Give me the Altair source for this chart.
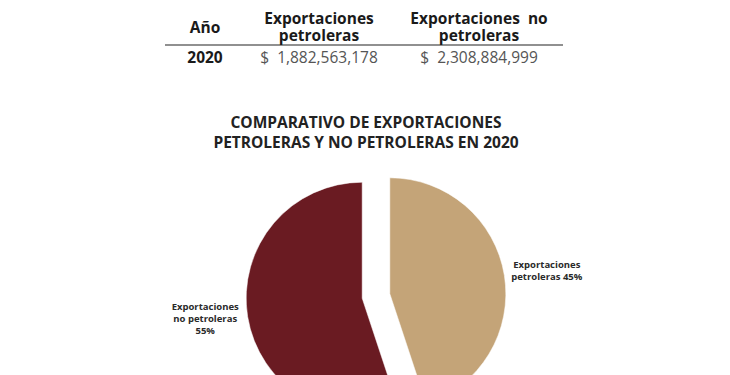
import altair as alt
import pandas as pd

# ---- table data ----
table_headers = ["Año", "Exportaciones\npetroleras", "Exportaciones\u00a0\u00a0no\npetroleras"]
table_year = "2020"
table_values = [1882563178, 2308884999]

# ---- pie data ----
categories = ["Exportaciones petroleras", "Exportaciones no petroleras"]
pie_values = [1882563178, 2308884999]
label_prefix = ["Exportaciones\npetroleras ", "Exportaciones\nno petroleras\n"]
pie_colors = ["#C4A478", "#6A1B22"]

title_lines = ["COMPARATIVO DE EXPORTACIONES", "PETROLERAS Y NO PETROLERAS EN 2020"]

FONT = "Open Sans"

col_scale = alt.Scale(domain=[0, 1, 2], range=[197, 311, 471])
HEAD_LH = 17

header_df = pd.DataFrame({"ci": list(range(len(table_headers))), "header": table_headers})
headers = alt.Chart(header_df).transform_calculate(
    hy=f"19.5 - (length(split(datum.header, '\\n')) - 1) * {HEAD_LH} / 2"
).mark_text(
    font=FONT, fontSize=15.5, fontWeight="bold", color="#1a1a1a",
    baseline="middle", align="center", lineBreak="\n", lineHeight=HEAD_LH
).encode(
    x=alt.X("ci:Q", scale=col_scale, axis=None),
    y=alt.Y("hy:Q", scale=None),
    text="header:N",
)

rule = alt.Chart(pd.DataFrame({"a": [0]})).mark_rule(color="#222", strokeWidth=1.2).encode(
    x=alt.value(157), x2=alt.value(555), y=alt.value(37)
)

year_df = pd.DataFrame({"ci": [0], "txt": [table_year]})
year = alt.Chart(year_df).mark_text(
    font=FONT, fontSize=15.5, fontWeight="bold", color="#1a1a1a", baseline="middle"
).encode(
    x=alt.X("ci:Q", scale=col_scale, axis=None),
    y=alt.value(50),
    text="txt:N",
)

vals_df = pd.DataFrame({"ci": [1, 2], "v": table_values})
vals = alt.Chart(vals_df).transform_calculate(
    txt="'$\u00a0\u00a0' + format(datum.v, ',')"
).mark_text(
    font=FONT, fontSize=15.5, color="#555555", baseline="middle"
).encode(
    x=alt.X("ci:Q", scale=col_scale, axis=None),
    y=alt.value(50),
    text="txt:N",
)

title = alt.Chart(pd.DataFrame({"t": ["\n".join(title_lines)]})).mark_text(
    font=FONT, fontSize=15.5, fontWeight="bold", color="#222222",
    baseline="middle", align="center", lineBreak="\n", lineHeight=19.5
).encode(
    x=alt.value(358), y=alt.value(115), text="t:N"
)

pie_df = pd.DataFrame({
    "cat": categories,
    "value": pie_values,
    "idx": list(range(len(categories))),
    "prefix": label_prefix,
})

CX, CY, EXPLODE, R, RLX, RLY, LAB_LH = 368, 288, 14, 116, 173, 152, 12

pie_base = alt.Chart(pie_df).transform_joinaggregate(
    total="sum(value)"
).transform_window(
    cum="sum(value)", sort=[alt.SortField("idx")]
).transform_calculate(
    mid="(datum.cum - datum.value/2) / datum.total * 2 * PI",
    cx=f"{CX} + {EXPLODE} * sin(datum.mid)",
    cy=f"{CY} - {EXPLODE} * cos(datum.mid)",
    lx=f"{CX} + {RLX} * sin(datum.mid)",
    ly=f"{CY} - 1 - {RLY} * cos(datum.mid) - (length(split(datum.prefix, '\\n')) - 1) * {LAB_LH} / 2",
    label="datum.prefix + format(datum.value / datum.total * 100, '.0f') + '%'",
)

arcs = pie_base.mark_arc(radius=R, stroke="#ffffff", strokeWidth=0.5).encode(
    theta=alt.Theta("value:Q", stack=True),
    order=alt.Order("idx:Q"),
    color=alt.Color("cat:N", scale=alt.Scale(domain=categories, range=pie_colors), legend=None),
    x=alt.X("cx:Q", scale=None),
    y=alt.Y("cy:Q", scale=None),
)

labels = pie_base.mark_text(
    font=FONT, fontSize=9.5, fontWeight="bold", color="#2a2a2a",
    baseline="middle", align="center", lineBreak="\n", lineHeight=LAB_LH
).encode(
    x=alt.X("lx:Q", scale=None),
    y=alt.Y("ly:Q", scale=None),
    text="label:N",
)

chart = alt.layer(headers, rule, year, vals, title, arcs, labels).resolve_scale(
    x="independent", y="independent", color="independent"
).properties(
    width=714, height=367, padding=0, autosize="none", background="white"
).configure_view(stroke=None)

chart.save("out.html", embed_options={"renderer": "svg", "actions": False})
